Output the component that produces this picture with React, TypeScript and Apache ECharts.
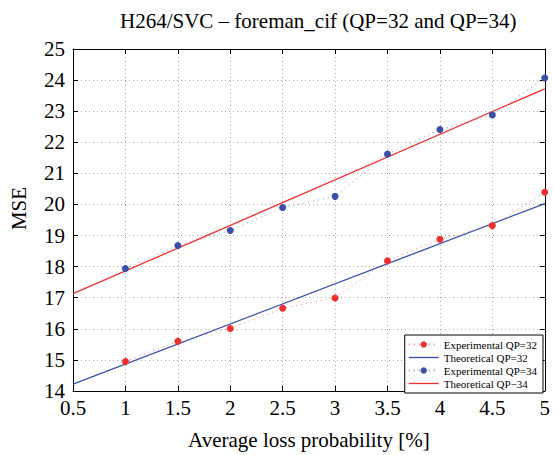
import React, { useEffect, useRef } from "react";
import * as echarts from "echarts";

const xValues = [1, 1.5, 2, 2.5, 3, 3.5, 4, 4.5, 5];
const expQP32 = [14.95, 15.6, 16.01, 16.66, 16.99, 18.19, 18.88, 19.32, 20.39];
const expQP34 = [17.94, 18.68, 19.16, 19.9, 20.26, 21.62, 22.41, 22.88, 24.07];
const theoX = [0.5, 5];
const theoQP32 = [14.22, 20.03];
const theoQP34 = [17.13, 23.72];
const seriesNames = [
  "Experimental QP=32",
  "Theoretical QP=32",
  "Experimental QP=34",
  "Theoretical QP\u221234",
];

const RED = "#f03030";
const BLUE = "#3a4fa8";
const FONT = "Times New Roman, Liberation Serif, serif";
const LINE_ICON = "path://M0,0L60,0L60,2.6L0,2.6Z";

export default function App() {
  const ref = useRef<HTMLDivElement>(null);
  useEffect(() => {
    document.body.style.margin = "0";
    const chart = echarts.init(ref.current!, null, { renderer: "svg" });
    const pair = (xs: number[], ys: number[]) => xs.map((x, i) => [x, ys[i]]);
    const axisLine = { show: true, lineStyle: { color: "#000", width: 1 } };
    const tick = { show: true, inside: true, length: 5, lineStyle: { color: "#000" } };
    chart.setOption({
      animation: false,
      backgroundColor: "#fff",
      title: {
        text: "H264/SVC \u2013 foreman_cif (QP=32 and QP=34)",
        left: 115,
        top: 5,
        textStyle: { fontFamily: FONT, fontSize: 21, fontWeight: "normal", color: "#000" },
      },
      grid: { left: 69, right: 5, top: 49, bottom: 59, containLabel: false },
      legend: {
        orient: "vertical",
        right: 10,
        bottom: 62,
        data: [
          { name: seriesNames[0] },
          { name: seriesNames[1], icon: LINE_ICON },
          { name: seriesNames[2] },
          { name: seriesNames[3], icon: LINE_ICON },
        ],
        itemWidth: 30,
        itemHeight: 8,
        itemGap: 2,
        padding: [4, 6, 4, 3],
        borderColor: "#000",
        borderWidth: 1,
        backgroundColor: "#fff",
        textStyle: { fontFamily: FONT, fontSize: 11, color: "#000" },
      },
      xAxis: [
        {
          type: "value",
          min: 0.5,
          max: 5,
          interval: 0.5,
          position: "bottom",
          name: "Average loss probability [%]",
          nameLocation: "middle",
          nameGap: 38,
          nameTextStyle: { fontFamily: FONT, fontSize: 21, color: "#000" },
          axisLine,
          axisTick: tick,
          axisLabel: { fontFamily: FONT, fontSize: 21, color: "#000", margin: 6 },
          splitLine: { show: true, lineStyle: { color: "#aaa", type: [1, 3] } },
        },
        {
          type: "value",
          min: 0.5,
          max: 5,
          interval: 0.5,
          position: "top",
          axisLine,
          axisTick: tick,
          axisLabel: { show: false },
          splitLine: { show: false },
        },
      ],
      yAxis: [
        {
          type: "value",
          min: 14,
          max: 25,
          interval: 1,
          position: "left",
          name: "MSE",
          nameLocation: "middle",
          nameGap: 44,
          nameTextStyle: { fontFamily: FONT, fontSize: 21, color: "#000", padding: [0, 0, 0, 23] },
          axisLine,
          axisTick: tick,
          axisLabel: { fontFamily: FONT, fontSize: 21, color: "#000", margin: 8 },
          splitLine: { show: true, lineStyle: { color: "#aaa", type: [1, 3] } },
        },
        {
          type: "value",
          min: 14,
          max: 25,
          interval: 1,
          position: "right",
          axisLine,
          axisTick: tick,
          axisLabel: { show: false },
          splitLine: { show: false },
        },
      ],
      series: [
        {
          name: seriesNames[0],
          type: "line",
          data: pair(xValues, expQP32),
          symbol: "circle",
          symbolSize: 7,
          itemStyle: { color: RED },
          lineStyle: { color: RED, width: 1, type: [1, 4], opacity: 0.6 },
          z: 3,
        },
        {
          name: seriesNames[1],
          type: "line",
          data: pair(theoX, theoQP32),
          symbol: "none",
          itemStyle: { color: BLUE },
          lineStyle: { color: BLUE, width: 1.3 },
        },
        {
          name: seriesNames[2],
          type: "line",
          data: pair(xValues, expQP34),
          symbol: "circle",
          symbolSize: 7,
          itemStyle: { color: BLUE },
          lineStyle: { color: BLUE, width: 1, type: [1, 4], opacity: 0.6 },
          z: 3,
        },
        {
          name: seriesNames[3],
          type: "line",
          data: pair(theoX, theoQP34),
          symbol: "none",
          itemStyle: { color: RED },
          lineStyle: { color: RED, width: 1.3 },
        },
      ],
    });
    return () => chart.dispose();
  }, []);
  return <div ref={ref} style={{ width: 553, height: 455 }} />;
}
